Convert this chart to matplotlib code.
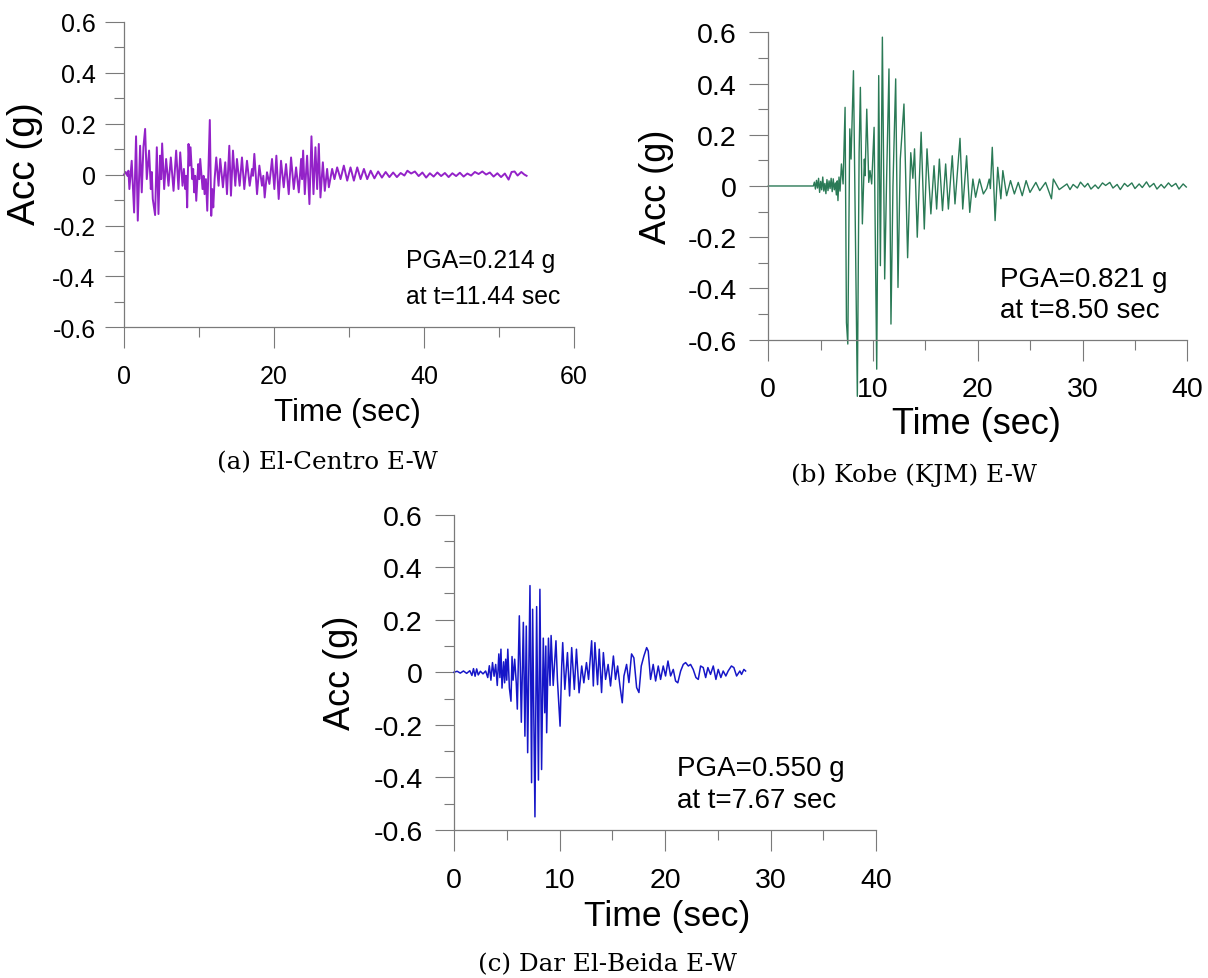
import matplotlib
matplotlib.use("Agg")
import matplotlib.pyplot as plt
from matplotlib.ticker import MultipleLocator, FuncFormatter

# El-Centro E-W, peaks and troughs (time in s, acc in g)
elcentro_t = [
    0.0, 0.22, 0.45, 0.58, 0.71, 1.02, 1.34, 1.60, 1.83, 2.14,
    2.36, 2.58, 2.81, 3.03, 3.34, 3.57, 3.70, 3.83, 4.14, 4.37,
    4.59, 4.81, 4.95, 5.08, 5.35, 5.61, 5.93, 6.24, 6.60, 6.95,
    7.26, 7.49, 7.80, 7.98, 8.16, 8.29, 8.42, 8.60, 8.73, 8.87,
    9.09, 9.22, 9.36, 9.49, 9.63, 9.89, 10.03, 10.16, 10.47, 10.61,
    10.74, 10.92, 11.10, 11.44, 11.63, 11.76, 11.90, 12.08, 12.30, 12.61,
    12.83, 13.19, 13.50, 13.73, 14.04, 14.26, 14.53, 14.84, 15.06, 15.42,
    15.73, 16.04, 16.40, 16.76, 17.07, 17.20, 17.38, 17.74, 18.05, 18.40,
    18.58, 18.76, 19.07, 19.39, 19.74, 20.05, 20.32, 20.63, 20.94, 21.30,
    21.61, 21.97, 22.28, 22.64, 22.95, 23.31, 23.62, 23.75, 23.89, 24.11,
    24.42, 24.73, 25.00, 25.27, 25.53, 25.76, 25.98, 26.20, 26.52, 26.78,
    27.09, 27.32, 27.76, 28.07, 28.43, 28.88, 29.32, 29.77, 30.21, 30.66,
    31.11, 31.55, 32.00, 32.44,
    32.9, 33.4, 33.9, 34.4, 34.9, 35.4, 35.9, 36.4, 36.9, 37.4,
    37.8, 38.3, 38.8, 39.3, 39.8, 40.3, 40.8, 41.3, 41.8, 42.3,
    42.8, 43.3, 43.8, 44.3, 44.8, 45.3, 45.8, 46.3, 46.8, 47.3,
    47.8, 48.3, 48.8, 49.3, 49.8, 50.3, 50.8, 51.3, 51.7, 52.1,
    52.5, 53.0, 53.4, 53.7,
]
elcentro_acc = [
    0.0, 0.01, -0.005, 0.015, -0.057, 0.054, -0.149, 0.15, -0.181, 0.113,
    -0.07, 0.107, 0.179, -0.018, 0.094, -0.057, 0.01, -0.096, -0.159, 0.107,
    -0.155, 0.074, -0.018, 0.122, -0.057, 0.061, -0.044, 0.067, -0.064, 0.094,
    -0.057, 0.087, -0.044, 0.022, -0.057, -0.005, -0.129, 0.12, 0.035, 0.107,
    -0.018, 0.022, -0.07, -0.005, -0.103, 0.041, -0.018, 0.061, -0.057, -0.005,
    -0.077, -0.018, -0.142, 0.214, -0.162, -0.057, -0.129, -0.018, 0.067, -0.044,
    0.061, -0.05, 0.048, -0.077, 0.113, -0.083, 0.094, -0.044, 0.061, -0.044,
    0.067, -0.057, 0.054, -0.044, 0.022, -0.005, 0.081, -0.077, 0.035, -0.044,
    -0.005, -0.09, 0.009, -0.037, 0.061, -0.057, 0.074, -0.096, 0.054, -0.05,
    0.041, -0.077, 0.067, -0.057, 0.028, -0.07, 0.061, -0.018, 0.094, -0.077,
    0.074, -0.116, 0.15, -0.077, 0.107, -0.057, 0.12, -0.09, 0.048, -0.064,
    0.022, -0.05, 0.022, -0.018, 0.028, -0.018, 0.035, -0.024, 0.028, -0.024,
    0.028, -0.018, 0.022, -0.018,
    0.015, -0.015, 0.012, -0.012, 0.01, -0.01, 0.008, -0.01, 0.006, -0.004,
    0.015, 0.004, 0.012, -0.006, 0.008, -0.012, 0.005, -0.008, 0.008, -0.006,
    0.006, -0.01, 0.005, -0.006, 0.007, -0.008, 0.004, -0.004, 0.01, 0.002,
    0.012, 0.0, 0.008, -0.008, 0.005, -0.01, 0.004, -0.02, 0.01, 0.012,
    -0.004, 0.01, 0.0, -0.005,
]

# Kobe (KJM) E-W
kobe_t = [
    0.0, 4.3, 4.4, 4.5, 4.6, 4.7, 4.8, 4.9, 5.0, 5.1,
    5.2, 5.3, 5.4, 5.5, 5.6, 5.7, 5.8, 5.9, 6.0, 6.1,
    6.2, 6.3, 6.4, 6.5, 6.58, 6.65, 6.75, 6.85, 6.92, 6.98,
    7.14, 7.33, 7.46, 7.59, 7.78, 7.90, 8.13, 8.50, 8.67, 8.79,
    8.98, 9.17, 9.24, 9.40, 9.59, 9.71, 9.87, 10.10, 10.35, 10.54,
    10.70, 10.89, 11.11, 11.30, 11.52, 11.71, 11.90, 12.16, 12.38, 12.60,
    12.95, 13.30, 13.60, 13.80, 13.96, 14.22, 14.59, 14.89, 15.15, 15.52,
    15.82, 16.07, 16.33, 16.63, 16.93, 17.19, 17.56, 17.82, 18.30, 18.56,
    18.93, 19.23, 19.53, 19.79, 20.16, 20.53, 20.85, 21.09, 21.20, 21.38,
    21.65, 21.90, 22.20, 22.39, 22.75, 23.12, 23.49, 23.86, 24.24, 24.61,
    24.98, 25.54, 25.91, 26.47, 27.03, 27.21, 27.77,
    28.51, 28.8, 29.1, 29.5, 29.8, 30.2, 30.5, 30.8, 31.2, 31.5,
    31.9, 32.2, 32.6, 32.9, 33.3, 33.6, 34.0, 34.3, 34.7, 35.0,
    35.4, 35.7, 36.1, 36.4, 36.8, 37.1, 37.5, 37.8, 38.2, 38.5,
    38.9, 39.2, 39.6, 39.9,
]
kobe_acc = [
    0.0, 0.0, 0.015, -0.012, 0.022, -0.008, 0.03, -0.025, 0.018, -0.015,
    0.035, -0.02, 0.01, -0.03, 0.025, -0.018, 0.02, -0.01, 0.03, -0.022,
    0.028, -0.015, 0.012, -0.035, 0.02, -0.057, 0.035, -0.02, 0.04, 0.086,
    0.008, 0.307, -0.533, -0.617, 0.223, 0.105, 0.45, -0.821, 0.13, 0.385,
    -0.148, 0.105, 0.04, 0.30, 0.014, 0.06, 0.008, 0.229, -0.715, 0.431,
    -0.311, 0.581, -0.363, 0.04, 0.457, -0.539, 0.0, 0.418, -0.396, 0.105,
    0.32, -0.28, 0.13, 0.03, 0.145, -0.2, 0.21, -0.168, 0.145, -0.109,
    0.079, -0.09, 0.105, -0.096, 0.086, -0.09, 0.118, -0.07, 0.186, -0.09,
    0.118, -0.103, 0.027, -0.044, 0.027, -0.031, -0.01, 0.027, -0.01, 0.151,
    -0.135, 0.073, -0.05, 0.06, -0.038, 0.021, -0.031, 0.014, -0.038, 0.021,
    -0.025, 0.014, -0.018, 0.014, -0.05, 0.027, -0.014,
    0.008, -0.014, 0.006, -0.008, 0.015, -0.004, 0.01, -0.012, 0.004, -0.01,
    0.012, 0.002, 0.014, -0.008, 0.006, -0.014, 0.01, -0.002, 0.012, -0.01,
    0.008, -0.006, 0.016, -0.004, 0.01, -0.012, 0.006, -0.008, 0.012, -0.002,
    0.01, -0.012, 0.008, -0.004,
]

# Dar El-Beida E-W
dar_t = [
    0.0, 0.3, 0.6, 0.9, 1.2, 1.5, 1.7, 1.85, 2.0, 2.15,
    2.3, 2.5, 2.75, 3.0, 3.2, 3.35, 3.5, 3.65, 3.8, 3.95,
    4.1, 4.25, 4.35, 4.45, 4.55, 4.7, 4.8, 4.9, 5.0, 5.1,
    5.25, 5.4, 5.5, 5.6, 5.75, 5.9, 6.0, 6.19, 6.38, 6.57,
    6.72, 6.85, 6.98, 7.2, 7.35, 7.45, 7.67, 7.83, 8.0, 8.14,
    8.3, 8.46, 8.6, 8.7, 8.78, 8.95, 9.1, 9.2, 9.4, 9.66,
    9.8, 10.05, 10.2, 10.3, 10.5, 10.75, 10.95, 11.15, 11.4, 11.6,
    11.85, 12.1, 12.3, 12.55, 12.75, 13.04, 13.2, 13.35, 13.6, 13.76,
    13.98, 14.15, 14.36, 14.6, 14.83, 15.1, 15.3, 15.5, 15.72, 15.94,
    16.1, 16.35, 16.57, 16.82, 17.04, 17.3, 17.52, 17.74, 17.99, 18.25,
    18.4, 18.62, 18.87, 19.1, 19.35, 19.57, 19.82, 20.04, 20.27, 20.52,
    20.77, 20.99, 21.2, 21.47, 21.72, 21.94, 22.2, 22.41, 22.66, 22.92,
    23.14, 23.36, 23.61, 23.84, 24.05, 24.3, 24.56, 24.81, 25.03, 25.28,
    25.5, 25.75, 25.97, 26.28, 26.51, 26.77, 27.08, 27.24, 27.46, 27.62,
]
dar_acc = [
    0.0, 0.004, -0.003, 0.005, -0.004, 0.006, -0.012, 0.014, -0.015, 0.013,
    -0.01, 0.004, -0.006, 0.005, -0.02, 0.025, -0.03, 0.037, -0.015, 0.03,
    -0.05, 0.07, -0.02, 0.088, -0.06, 0.04, -0.04, 0.05, -0.03, 0.088,
    -0.06, -0.11, 0.06, -0.03, 0.05, -0.04, -0.14, 0.215, -0.19, 0.19,
    -0.243, 0.176, -0.306, 0.33, -0.42, 0.24, -0.55, 0.25, -0.41, 0.316,
    -0.37, 0.13, -0.154, 0.1, -0.23, 0.13, -0.05, 0.14, -0.05, 0.12,
    -0.03, -0.205, 0.02, 0.113, -0.065, 0.075, -0.09, 0.094, -0.065, 0.088,
    -0.078, 0.024, -0.04, 0.037, -0.027, 0.12, -0.052, 0.113, -0.047, 0.088,
    -0.077, 0.075, -0.027, 0.03, -0.052, 0.062, -0.027, 0.024, -0.052, -0.116,
    -0.014, 0.03, -0.039, 0.07, 0.055, -0.058, -0.077, 0.024, 0.062, 0.094,
    0.081, -0.027, 0.03, -0.033, 0.024, -0.027, 0.024, -0.014, 0.043, -0.014,
    0.011, -0.033, -0.04, 0.005, 0.03, 0.037, 0.024, 0.03, 0.011, -0.02,
    -0.027, 0.024, 0.018, -0.02, 0.018, -0.008, 0.024, -0.027, 0.011, -0.02,
    0.005, -0.014, 0.005, 0.024, 0.018, -0.014, 0.005, -0.008, 0.011, 0.005,
]

y_ticks = [-0.6, -0.4, -0.2, 0.0, 0.2, 0.4, 0.6]
pga_lines = [
    ["PGA=0.214 g", "at t=11.44 sec"],
    ["PGA=0.821 g", "at t=8.50 sec"],
    ["PGA=0.550 g", "at t=7.67 sec"],
]
captions = ["(a) El-Centro E-W", "(b) Kobe (KJM) E-W", "(c) Dar El-Beida E-W"]

AXIS_GREY = "#7a7a7a"

plt.rcParams["font.family"] = ["Liberation Sans", "DejaVu Sans"]
plt.rcParams["axes.unicode_minus"] = False


def tickFormat(v, pos):
    if abs(v) < 1e-9:
        return "0"
    return "%.1f" % v


def drawRecord(fig, rect, t, acc, color, lw, xmax, xmajor, xminor, pga, sz):
    ax = fig.add_axes(rect)
    ax.plot(t, acc, color=color, lw=lw, clip_on=False)
    ax.set_xlim(0, xmax)
    ax.set_ylim(-0.6, 0.6)
    ax.set_yticks(y_ticks)
    ax.yaxis.set_major_formatter(FuncFormatter(tickFormat))
    ax.yaxis.set_minor_locator(MultipleLocator(0.1))
    ax.xaxis.set_major_locator(MultipleLocator(xmajor))
    ax.xaxis.set_minor_locator(MultipleLocator(xminor))

    for side in ["top", "right"]:
        ax.spines[side].set_visible(False)
    for side in ["left", "bottom"]:
        ax.spines[side].set_color(AXIS_GREY)
        ax.spines[side].set_linewidth(0.9)

    ax.tick_params(axis="both", which="both", direction="out", color=AXIS_GREY, width=0.8)
    ax.tick_params(axis="x", which="major", length=15, pad=sz["xpad"], labelsize=sz["tick"])
    ax.tick_params(axis="y", which="major", length=14, pad=sz["ypad"], labelsize=sz["tick"])
    ax.tick_params(axis="both", which="minor", length=7)

    ax.set_xlabel("Time (sec)", fontsize=sz["xlabel"], va="center")
    ax.xaxis.set_label_coords(*sz["xlabel_at"])
    ax.set_ylabel("Acc (g)", fontsize=sz["ylabel"], va="center", ha="center")
    ax.yaxis.set_label_coords(*sz["ylabel_at"])

    px, py1, py2 = sz["pga_at"]
    ax.text(px, py1, pga[0], transform=ax.transAxes, fontsize=sz["pga"], va="baseline")
    ax.text(px, py2, pga[1], transform=ax.transAxes, fontsize=sz["pga"], va="baseline")
    return ax


fig = plt.figure(figsize=(12.08, 9.79), dpi=100)

size_a = {"tick": 18, "xpad": 11.5, "ypad": 6.5, "xlabel": 22.5, "ylabel": 28, "pga": 17.8,
          "xlabel_at": (0.497, -0.276), "ylabel_at": (-0.220, 0.540),
          "pga_at": (0.627, 0.197, 0.080)}
size_b = {"tick": 20.5, "xpad": 11.5, "ypad": 8.6, "xlabel": 26, "ylabel": 26, "pga": 20,
          "xlabel_at": (0.497, -0.274), "ylabel_at": (-0.267, 0.501),
          "pga_at": (0.552, 0.174, 0.075)}
size_c = {"tick": 20.5, "xpad": 11.4, "ypad": 8.3, "xlabel": 25.5, "ylabel": 26, "pga": 20,
          "xlabel_at": (0.504, -0.272), "ylabel_at": (-0.269, 0.500),
          "pga_at": (0.528, 0.174, 0.072)}

drawRecord(fig, [0.1027, 0.6645, 0.3723, 0.3124], elcentro_t, elcentro_acc,
           "#9322c8", 1.4, 60, 20, 10, pga_lines[0], size_a)
drawRecord(fig, [0.6360, 0.6520, 0.3469, 0.3140], kobe_t, kobe_acc,
           "#2a7a56", 1.0, 40, 10, 5, pga_lines[1], size_b)
drawRecord(fig, [0.3758, 0.1512, 0.3496, 0.3221], dar_t, dar_acc,
           "#1616c8", 1.1, 40, 10, 5, pga_lines[2], size_c)

caption_font = {"family": "DejaVu Serif", "size": 17.7}
fig.text(327 / 1208, 1 - 463 / 979, captions[0], ha="center", va="center", fontdict=caption_font)
fig.text(914 / 1208, 1 - 475 / 979, captions[1], ha="center", va="center", fontdict=caption_font)
fig.text(607.5 / 1208, 1 - 965 / 979, captions[2], ha="center", va="center", fontdict=caption_font)

fig.savefig("out.png", dpi=100)
